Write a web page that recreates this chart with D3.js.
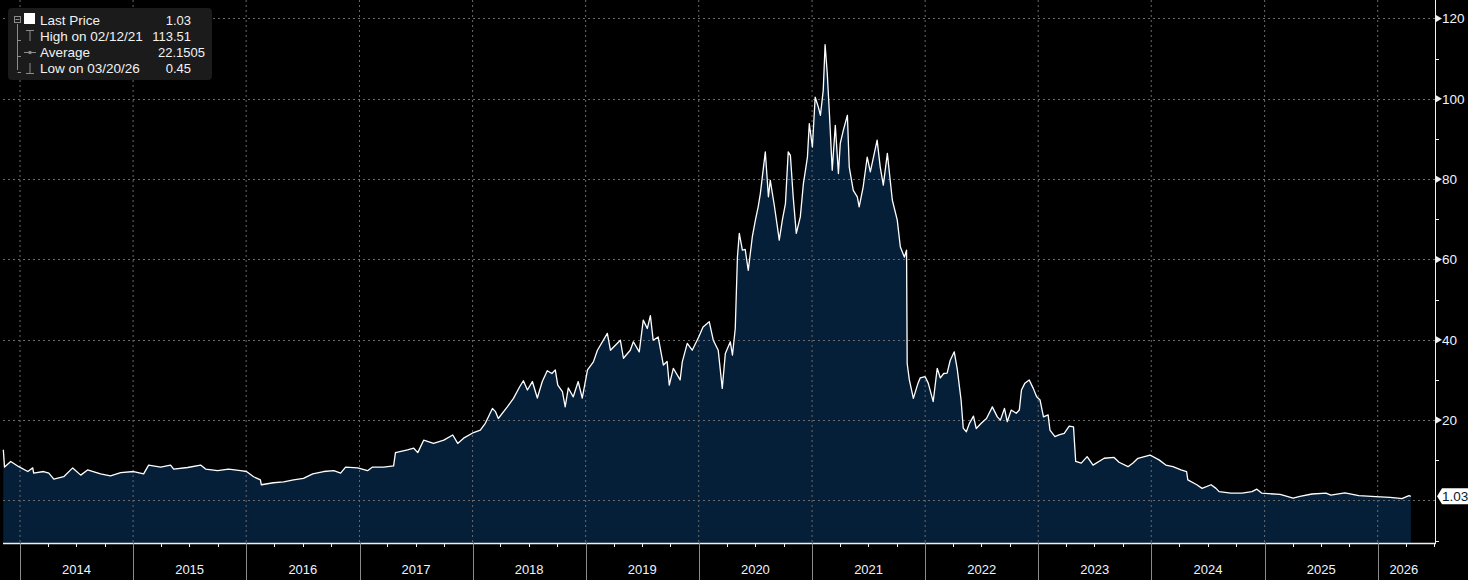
<!DOCTYPE html>
<html>
<head>
<meta charset="utf-8">
<script src="https://cdn.jsdelivr.net/npm/d3@7"></script>
<style>
  html, body { margin: 0; padding: 0; background: #000; }
  svg { display: block; }
  text { font-family: "Liberation Sans", Arial, sans-serif; }
</style>
</head>
<body>
<svg id="chart"></svg>
<script>
// Price history
const priceDates = [
  "2013-11-08","2013-11-12","2013-12-02","2013-12-28",
  "2014-01-26","2014-02-11","2014-02-14","2014-03-18","2014-04-04","2014-04-20","2014-05-22","2014-06-20",
  "2014-07-16","2014-08-07","2014-09-18","2014-10-20","2014-11-22",
  "2015-01-03","2015-02-04","2015-02-20","2015-03-31","2015-05-02","2015-05-12","2015-06-26","2015-08-07",
  "2015-08-23","2015-10-01","2015-11-05","2015-12-14",
  "2016-01-02","2016-01-25","2016-02-16","2016-02-19","2016-03-29","2016-05-01","2016-06-02","2016-07-04",
  "2016-08-03","2016-09-07","2016-10-10","2016-11-01","2016-11-17","2016-12-26",
  "2017-01-27","2017-02-12","2017-03-20","2017-04-21","2017-04-27","2017-06-05","2017-06-25","2017-07-08",
  "2017-07-27","2017-08-28","2017-09-30","2017-10-29","2017-11-14","2017-12-03",
  "2018-01-04","2018-01-26","2018-02-11","2018-03-06","2018-03-16","2018-03-25","2018-04-23","2018-05-13",
  "2018-06-02","2018-06-14","2018-06-27","2018-07-13","2018-07-29","2018-08-14","2018-08-30","2018-09-14",
  "2018-09-25","2018-10-03","2018-10-18","2018-10-27","2018-11-06","2018-11-22","2018-12-08","2018-12-21",
  "2019-01-07","2019-01-26","2019-02-08","2019-03-12","2019-03-22","2019-04-23","2019-05-03","2019-05-25",
  "2019-06-04","2019-06-23","2019-07-06","2019-07-19","2019-07-29","2019-08-07","2019-08-23","2019-09-09",
  "2019-09-21","2019-09-28","2019-10-11","2019-11-02","2019-11-09","2019-11-25","2019-12-11",
  "2020-01-01","2020-01-15","2020-02-04","2020-02-17","2020-03-04","2020-03-17","2020-03-27","2020-04-12",
  "2020-04-19","2020-04-28","2020-05-05","2020-05-11","2020-05-21","2020-05-30","2020-06-09","2020-06-22",
  "2020-07-02","2020-07-11","2020-07-18","2020-08-03","2020-08-13","2020-08-19","2020-09-01","2020-09-11",
  "2020-09-17","2020-09-27","2020-10-07","2020-10-16","2020-10-23","2020-11-01","2020-11-11","2020-11-24",
  "2020-12-04","2020-12-17","2020-12-23",
  "2021-01-02","2021-01-11","2021-01-21","2021-01-28","2021-02-06","2021-02-12","2021-02-19","2021-02-26",
  "2021-03-07","2021-03-17","2021-03-27","2021-04-02","2021-04-12","2021-04-25","2021-05-01","2021-05-14",
  "2021-05-27","2021-06-02","2021-06-15","2021-06-28","2021-07-08","2021-07-30","2021-08-09","2021-08-19",
  "2021-09-01","2021-09-17","2021-10-03","2021-10-13","2021-10-26","2021-11-02","2021-11-04","2021-11-11",
  "2021-11-24","2021-12-09","2021-12-16",
  "2022-01-01","2022-01-11","2022-01-27","2022-02-09","2022-02-19","2022-03-02","2022-03-13","2022-03-23",
  "2022-04-05","2022-04-15","2022-04-27","2022-05-04","2022-05-14","2022-05-24","2022-06-06","2022-06-15",
  "2022-07-01","2022-07-18","2022-08-06","2022-08-22","2022-09-01","2022-09-14","2022-09-23","2022-10-06",
  "2022-10-22","2022-11-01","2022-11-08","2022-11-19","2022-12-03","2022-12-16","2022-12-27",
  "2023-01-07","2023-01-18","2023-02-02","2023-02-08","2023-02-24","2023-03-09","2023-03-26","2023-04-11",
  "2023-04-25","2023-05-02","2023-05-20","2023-06-08","2023-06-27","2023-08-02","2023-09-03","2023-09-19",
  "2023-10-18","2023-11-03","2023-11-19","2023-12-28",
  "2024-01-26","2024-02-17","2024-03-11","2024-04-06","2024-04-24","2024-04-28","2024-05-27","2024-06-13",
  "2024-07-12","2024-07-28","2024-08-07","2024-09-14","2024-10-20","2024-11-21","2024-12-07","2024-12-23",
  "2025-02-20","2025-04-03","2025-04-25","2025-06-03","2025-07-18","2025-08-03","2025-09-17","2025-11-01",
  "2025-12-26",
  "2026-02-10","2026-03-14","2026-03-20","2026-04-12","2026-04-18"
];

const prices = [
  12.6, 8.3, 9.7, 8.4,
  7.2, 8.1, 6.8, 7.2, 6.8, 5.3, 5.9, 8.1,
  6.3, 7.6, 6.6, 6.1, 6.9,
  7.2, 6.6, 8.8, 8.3, 8.8, 7.8, 8.2, 8.8,
  7.8, 7.4, 7.8, 7.4,
  7.2, 5.9, 5.1, 3.9, 4.4, 4.6, 5.1, 5.5,
  6.6, 7.2, 7.4, 6.8, 8.3, 8.1,
  7.4, 8.3, 8.3, 8.6, 11.9, 12.6, 13.0, 11.9,
  15.0, 14.2, 15.0, 16.3, 14.2, 15.5,
  16.9, 17.5, 19.2, 22.9, 22.1, 20.4, 23.3, 25.4,
  28.3, 29.8, 27.5, 29.6, 25.5, 29.6, 32.3, 31.6,
  32.5, 28.7, 27.1, 23.3, 28.0, 25.8, 29.6, 25.5,
  32.5, 34.5, 37.4, 41.6, 37.4, 39.9, 35.4, 37.4,
  39.5, 37.0, 44.9, 42.8, 46.0, 39.9, 40.7, 33.7,
  34.6, 28.7, 32.9, 30.0, 34.5, 39.1, 37.4,
  40.7, 43.2, 44.5, 39.9, 37.4, 27.9, 36.6, 39.5,
  36.2, 42.8, 60.6, 66.5, 62.3, 62.5, 57.3, 65.6,
  69.8, 73.1, 76.4, 86.8, 75.6, 79.7, 73.5, 68.1,
  64.8, 69.8, 73.9, 86.8, 85.9, 75.6, 66.5, 70.6,
  78.9, 85.5, 93.8,
  88.0, 100.4, 98.0, 95.9, 102.1, 113.51, 106.3, 96.3,
  82.2, 93.4, 81.4, 88.9, 92.2, 95.9, 83.0, 77.2,
  75.6, 73.1, 78.1, 85.5, 81.8, 89.7, 83.0, 78.5,
  86.4, 74.8, 69.8, 63.1, 60.6, 62.3, 34.1, 30.0,
  25.4, 29.2, 30.5,
  30.8, 29.2, 24.6, 32.9, 30.5, 31.6, 31.7, 34.9,
  37.0, 32.5, 25.0, 18.0, 17.1, 19.2, 21.0, 17.9,
  19.2, 20.4, 23.3, 20.8, 20.0, 22.9, 19.6, 22.5,
  21.7, 22.5, 27.5, 29.2, 30.0, 27.9, 25.8,
  25.0, 20.8, 21.3, 17.5, 15.9, 16.3, 16.7, 18.5,
  18.3, 9.7, 9.3, 10.9, 8.8, 10.5, 10.7, 9.5,
  8.4, 9.3, 10.5, 11.3,
  10.1, 8.8, 8.4, 7.6, 7.2, 5.1, 3.9, 3.0,
  3.9, 3.0, 2.2, 1.8, 1.8, 2.2, 2.8, 1.8,
  1.5, 0.6, 1.0, 1.6, 1.8, 1.3, 1.9, 1.2,
  0.95,
  0.75, 0.5, 0.45, 1.2, 1.03
];

const yTicks = [0, 20, 40, 60, 80, 100, 120];
const yMinorTicks = [-10, 10, 30, 50, 70, 90, 110];
const lastPrice = 1.03;

const legendLabels = ["Last Price", "High on 02/12/21", "Average", "Low on 03/20/26"];
const legendValues = ["1.03", "113.51", "22.1505", "0.45"];

// Layout
const width = 1468;
const height = 580;
const plot = { left: 3, right: 1435, top: 0, bottom: 543 };

const parse = d3.timeParse("%Y-%m-%d");
const data = priceDates.map((d, i) => ({ date: parse(d), value: prices[i] }));

const svg = d3.select("#chart")
  .attr("width", width)
  .attr("height", height);

svg.append("rect")
  .attr("width", width)
  .attr("height", height)
  .attr("fill", "#000");

const x = d3.scaleTime()
  .domain([parse("2013-11-07"), parse("2026-07-05")])
  .range([plot.left, plot.right]);

const y = d3.scaleLinear()
  .domain([-10.6, 124.6])
  .range([plot.bottom, plot.top]);

// Filled area under the price
const area = d3.area()
  .x(d => x(d.date))
  .y0(plot.bottom)
  .y1(d => y(d.value));

svg.append("path")
  .datum(data)
  .attr("d", area)
  .attr("fill", "#061f38");

// Grid lines
const years = d3.timeYear.range(parse("2014-01-01"), parse("2026-12-31"));

svg.append("g")
  .selectAll("line")
  .data(years)
  .join("line")
  .attr("x1", d => x(d))
  .attr("x2", d => x(d))
  .attr("y1", plot.top)
  .attr("y2", plot.bottom)
  .attr("stroke", "#6a6a6a")
  .attr("stroke-width", 1)
  .attr("stroke-dasharray", "2 3");

svg.append("g")
  .selectAll("line")
  .data(yTicks)
  .join("line")
  .attr("x1", plot.left)
  .attr("x2", plot.right)
  .attr("y1", d => Math.round(y(d)) + 0.5)
  .attr("y2", d => Math.round(y(d)) + 0.5)
  .attr("stroke", "#6a6a6a")
  .attr("stroke-width", 1)
  .attr("stroke-dasharray", "2 3");

// Price line
const line = d3.line()
  .x(d => x(d.date))
  .y(d => y(d.value));

svg.append("path")
  .datum(data)
  .attr("d", line)
  .attr("fill", "none")
  .attr("stroke", "#fff")
  .attr("stroke-width", 1.3)
  .attr("stroke-linejoin", "round");

// Right axis
const axisColor = "#f0f0f0";
svg.append("line")
  .attr("x1", plot.right + 0.5)
  .attr("x2", plot.right + 0.5)
  .attr("y1", plot.top)
  .attr("y2", plot.bottom)
  .attr("stroke", axisColor);

const yAxis = svg.append("g");
yAxis.selectAll("path.tri")
  .data(yTicks.filter(d => d > 0))
  .join("path")
  .attr("d", d => {
    const ty = y(d);
    return `M${plot.right + 1},${ty - 3.5}L${plot.right + 7},${ty}L${plot.right + 1},${ty + 3.5}Z`;
  })
  .attr("fill", axisColor);

yAxis.selectAll("text")
  .data(yTicks.filter(d => d > 0))
  .join("text")
  .attr("x", plot.right + 7)
  .attr("y", d => y(d))
  .attr("dy", "0.35em")
  .attr("fill", "#eef3ff")
  .attr("font-size", "13.5px")
  .text(d => d);

yAxis.selectAll("line.minor")
  .data(yMinorTicks)
  .join("line")
  .attr("x1", plot.right)
  .attr("x2", plot.right + 4)
  .attr("y1", d => Math.round(y(d)) + 0.5)
  .attr("y2", d => Math.round(y(d)) + 0.5)
  .attr("stroke", axisColor);

// Last price tag
const ly = y(lastPrice);
svg.append("path")
  .attr("d", `M${plot.right + 2},${ly}L${plot.right + 7},${ly - 8}L${width},${ly - 8}L${width},${ly + 8}L${plot.right + 7},${ly + 8}Z`)
  .attr("fill", "#fff");
svg.append("text")
  .attr("x", plot.right + 7)
  .attr("y", ly)
  .attr("dy", "0.36em")
  .attr("fill", "#0a1a30")
  .attr("font-size", "13.5px")
  .text(lastPrice.toFixed(2));

// Bottom axis
svg.append("line")
  .attr("x1", plot.left)
  .attr("x2", plot.right + 1)
  .attr("y1", plot.bottom + 0.5)
  .attr("y2", plot.bottom + 0.5)
  .attr("stroke", axisColor)
  .attr("stroke-width", 1.5);

const quarters = d3.timeMonth.every(3).range(x.domain()[0], x.domain()[1])
  .filter(d => d.getMonth() !== 0);

svg.append("g")
  .selectAll("line")
  .data(quarters)
  .join("line")
  .attr("x1", d => Math.round(x(d)) + 0.5)
  .attr("x2", d => Math.round(x(d)) + 0.5)
  .attr("y1", plot.bottom)
  .attr("y2", plot.bottom + 4)
  .attr("stroke", axisColor);

svg.append("g")
  .selectAll("line")
  .data(years)
  .join("line")
  .attr("x1", d => Math.round(x(d)) + 0.5)
  .attr("x2", d => Math.round(x(d)) + 0.5)
  .attr("y1", plot.bottom)
  .attr("y2", height)
  .attr("stroke", "#8a8a8a");

svg.append("g")
  .selectAll("text")
  .data(years)
  .join("text")
  .attr("x", d => {
    const end = Math.min(x(d3.timeYear.offset(d, 1)), plot.right - 5);
    return (x(d) + end) / 2;
  })
  .attr("y", 569)
  .attr("dy", "0.35em")
  .attr("text-anchor", "middle")
  .attr("fill", "#eef3ff")
  .attr("font-size", "13px")
  .text(d => d.getFullYear());

// Legend box
const legend = svg.append("g").attr("transform", "translate(8, 8)");
legend.append("rect")
  .attr("width", 204)
  .attr("height", 72)
  .attr("rx", 4)
  .attr("fill", "#1b1b1b");

const rowY = [12, 28, 44, 60];
const iconGrey = "#8c8c8c";

// tree connector
legend.append("line")
  .attr("x1", 9.5).attr("x2", 9.5)
  .attr("y1", 16).attr("y2", 62)
  .attr("stroke", iconGrey);
legend.append("rect")
  .attr("x", 6.5).attr("y", 8.5)
  .attr("width", 6).attr("height", 6)
  .attr("fill", "#1b1b1b")
  .attr("stroke", iconGrey);
legend.append("line")
  .attr("x1", 7.5).attr("x2", 11.5)
  .attr("y1", 11.5).attr("y2", 11.5)
  .attr("stroke", iconGrey);
[1, 2, 3].forEach(i => {
  legend.append("line")
    .attr("x1", 9.5).attr("x2", 13)
    .attr("y1", rowY[i] + 4.5).attr("y2", rowY[i] + 4.5)
    .attr("stroke", iconGrey);
});

// white square for the price series
legend.append("rect")
  .attr("x", 16).attr("y", 5)
  .attr("width", 11).attr("height", 11)
  .attr("fill", "#fff");

// high marker
legend.append("path")
  .attr("d", `M18,${rowY[1] - 5.5}H26M22,${rowY[1] - 5.5}V${rowY[1] + 5}`)
  .attr("stroke", iconGrey).attr("fill", "none");
// average marker
legend.append("path")
  .attr("d", `M16,${rowY[2] + 0.5}H28`)
  .attr("stroke", iconGrey).attr("fill", "none");
legend.append("circle")
  .attr("cx", 22).attr("cy", rowY[2] + 0.5).attr("r", 1.8)
  .attr("fill", iconGrey);
// low marker
legend.append("path")
  .attr("d", `M18,${rowY[3] + 5.5}H26M22,${rowY[3] + 5.5}V${rowY[3] - 5}`)
  .attr("stroke", iconGrey).attr("fill", "none");

legend.selectAll("text.label")
  .data(legendLabels)
  .join("text")
  .attr("class", "label")
  .attr("x", 32)
  .attr("y", (d, i) => rowY[i])
  .attr("dy", "0.35em")
  .attr("fill", "#f2f2f2")
  .attr("font-size", "13.5px")
  .text(d => d);

legend.selectAll("text.value")
  .data(legendValues)
  .join("text")
  .attr("class", "value")
  .attr("x", (d, i) => i === 2 ? 197 : 183)
  .attr("y", (d, i) => rowY[i])
  .attr("dy", "0.35em")
  .attr("text-anchor", "end")
  .attr("fill", "#f2f2f2")
  .attr("font-size", "13px")
  .text(d => d);
</script>
</body>
</html>
